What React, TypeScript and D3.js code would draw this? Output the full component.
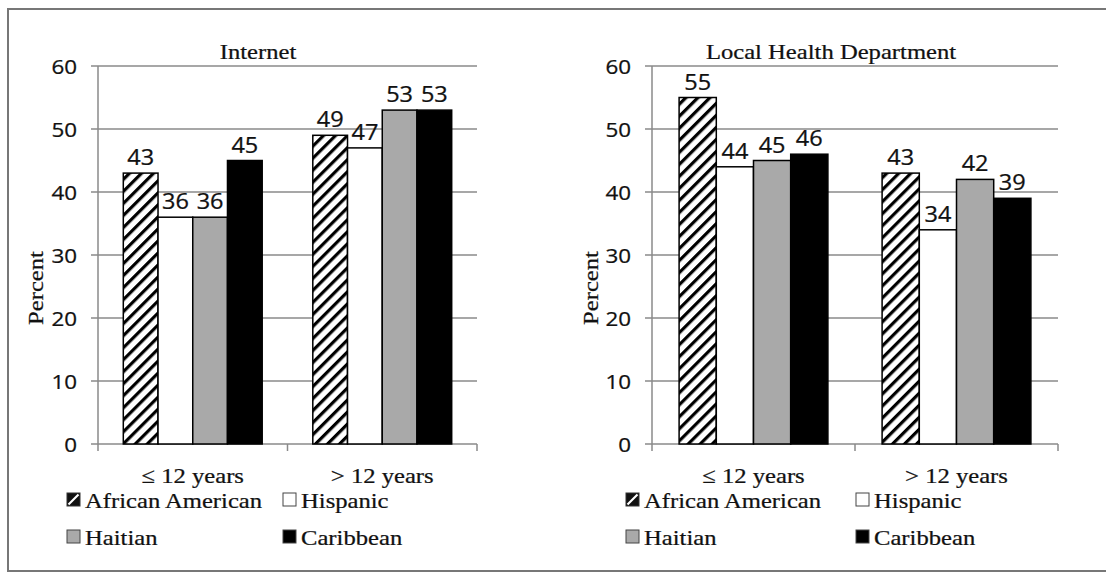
import React from 'react';
import * as d3 from 'd3';

const categories = ['\u2264 12 years', '> 12 years'];
const groups = ['African American', 'Hispanic', 'Haitian', 'Caribbean'];
const internetValues = [
  [43, 36, 36, 45],
  [49, 47, 53, 53],
];
const healthValues = [
  [55, 44, 45, 46],
  [43, 34, 42, 39],
];
const yTicks = [0, 10, 20, 30, 40, 50, 60];

const fills = ['url(#hatch)', '#ffffff', '#a9a9a9', '#000000'];
const SERIF = '"Liberation Serif", "Times New Roman", serif';
const SANS = '"Open Sans", "Noto Sans", sans-serif';
const STRETCH = 1.12;
const GRID = '#8a8a8a';

function T({ x, y, size, family, anchor = 'start', rotate = 0, children }: any) {
  return (
    <g transform={`translate(${x},${y}) rotate(${rotate}) scale(${STRETCH},1)`}>
      <text textAnchor={anchor} fontSize={size} fontFamily={family} fill="#111"
        stroke="#111" strokeWidth={0.25}>
        {children}
      </text>
    </g>
  );
}

interface PanelProps {
  title: string;
  values: number[][];
  left: number;
  right: number;
  titleX: number;
  percentX: number;
  legendX: [number, number];
}

function Panel({ title, values, left, right, titleX, percentX, legendX }: PanelProps) {
  const top = 66;
  const bottom = 444;

  const y = d3.scaleLinear().domain([0, 60]).range([bottom, top]);
  const x0 = d3.scaleBand<string>().domain(categories).range([left, right]).padding(0);
  const bw = x0.bandwidth();
  const x1 = d3.scaleBand<string>().domain(groups).range([bw * 0.1335, bw * 0.8665]).padding(0);

  const legendRows = [508, 545];

  return (
    <g>
      {/* gridlines */}
      {yTicks.map(t => (
        <g key={t}>
          <line x1={left - 7} x2={right} y1={y(t)} y2={y(t)} stroke={GRID} strokeWidth={1.5} />
          <T x={left - 21} y={y(t) + 8} size={20} family={SANS} anchor="end">{t}</T>
        </g>
      ))}
      {/* y axis */}
      <line x1={left} x2={left} y1={top} y2={bottom} stroke={GRID} strokeWidth={1.5} />
      {/* x ticks */}
      {[left, ...categories.map(c => (x0(c) as number) + bw)].map((tx, i) => (
        <line key={i} x1={tx} x2={tx} y1={bottom} y2={bottom + 7} stroke={GRID} strokeWidth={1.5} />
      ))}

      {/* bars */}
      {categories.map((c, ci) => (
        <g key={c}>
          {groups.map((g, gi) => {
            const v = values[ci][gi];
            const bx = (x0(c) as number) + (x1(g) as number);
            return (
              <g key={g}>
                <rect x={bx} y={y(v)} width={x1.bandwidth()} height={y(0) - y(v)}
                  fill={fills[gi]} stroke="#000" strokeWidth={1.5} />
                <T x={bx + x1.bandwidth() / 2} y={y(v) - 8} size={21} family={SANS} anchor="middle">{v}</T>
              </g>
            );
          })}
          <T x={(x0(c) as number) + bw / 2} y={483} size={22} family={SERIF} anchor="middle">{c}</T>
        </g>
      ))}

      {/* title and axis label */}
      <T x={titleX} y={59} size={22} family={SERIF} anchor="middle">{title}</T>
      <T x={percentX} y={288} size={22} family={SERIF} anchor="middle" rotate={-90}>Percent</T>

      {/* legend */}
      {groups.map((g, gi) => {
        const lx = legendX[gi % 2];
        const ly = legendRows[Math.floor(gi / 2)];
        return (
          <g key={g}>
            {gi === 0 ? (
              <g>
                <rect x={lx} y={ly - 15} width={13} height={13} fill="#111" stroke="#333" strokeWidth={1} />
                <line x1={lx + 1.5} y1={ly - 3.5} x2={lx + 11.5} y2={ly - 13.5} stroke="#fff" strokeWidth={2.2} />
              </g>
            ) : (
              <rect x={lx} y={ly - 15} width={13} height={13} fill={fills[gi]} stroke="#444" strokeWidth={1} />
            )}
            <T x={lx + 18} y={ly} size={22} family={SERIF}>{g}</T>
          </g>
        );
      })}
    </g>
  );
}

export default function App() {
  return (
    <svg width={1106} height={573} style={{ position: 'absolute', left: 0, top: 0, background: '#fff' }}>
      <defs>
        <pattern id="hatch" patternUnits="userSpaceOnUse" width={8.5} height={8.5} patternTransform="rotate(45)">
          <rect x={0} y={0} width={8.5} height={8.5} fill="#fff" />
          <rect x={0} y={0} width={3.2} height={8.5} fill="#000" />
        </pattern>
      </defs>
      <rect x={0} y={0} width={1106} height={573} fill="#fff" />
      <rect x={8} y={9} width={1110} height={562} fill="none" stroke="#777" strokeWidth={2} />
      <Panel title="Internet" values={internetValues} left={98} right={477}
        titleX={258} percentX={43} legendX={[67, 283]} />
      <Panel title="Local Health Department" values={healthValues} left={652} right={1058}
        titleX={831} percentX={598} legendX={[626, 856]} />
    </svg>
  );
}
